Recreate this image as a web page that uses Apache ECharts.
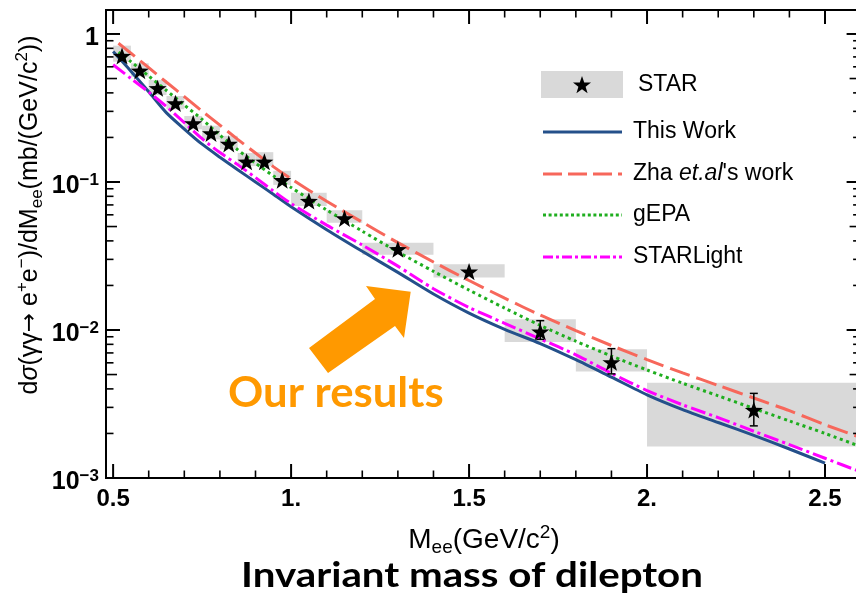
<!DOCTYPE html>
<html>
<head>
<meta charset="utf-8">
<script src="https://cdn.jsdelivr.net/npm/echarts@6/dist/echarts.min.js"></script>
<style>
  html, body { margin: 0; padding: 0; background: #fff; overflow: hidden; }
  #chart { width: 870px; height: 593px; }
</style>
</head>
<body>
<div id="chart"></div>
<script>
// ---- STAR measurement: bin centres, cross sections, bins, systematic band, statistical errors ----
const starMass  = [0.525, 0.575, 0.625, 0.675, 0.725, 0.775, 0.825, 0.875, 0.925, 0.975, 1.05, 1.15, 1.3, 1.5, 1.7, 1.9, 2.3];
const starXsec  = [0.71, 0.565, 0.43, 0.34, 0.249, 0.213, 0.181, 0.137, 0.137, 0.103, 0.0744, 0.0568, 0.0351, 0.0248, 0.00975, 0.00605, 0.00288];
const binLow    = [0.5, 0.55, 0.6, 0.65, 0.7, 0.75, 0.8, 0.85, 0.9, 0.95, 1.0, 1.1, 1.2, 1.4, 1.6, 1.8, 2.0];
const binHigh   = [0.55, 0.6, 0.65, 0.7, 0.75, 0.8, 0.85, 0.9, 0.95, 1.0, 1.1, 1.2, 1.4, 1.6, 1.8, 2.0, 2.6];
const sysLow    = [0.65, 0.515, 0.387, 0.31, 0.227, 0.194, 0.166, 0.128, 0.128, 0.0956, 0.0688, 0.0531, 0.0322, 0.0226, 0.0083, 0.00524, 0.00163];
const sysHigh   = [0.834, 0.634, 0.489, 0.381, 0.279, 0.24, 0.205, 0.157, 0.159, 0.119, 0.0845, 0.0645, 0.0389, 0.0278, 0.0118, 0.00741, 0.0044];
const statLow   = [null, null, null, null, null, null, null, null, null, null, null, null, null, null, 0.00865, 0.00505, 0.00225];
const statHigh  = [null, null, null, null, null, null, null, null, null, null, null, null, null, null, 0.01156, 0.00748, 0.00373];

// ---- theory curves ----
const thisWorkMass = [0.5, 0.55, 0.6, 0.65, 0.7, 0.75, 0.8, 0.85, 0.9, 0.95, 1.0, 1.1, 1.2, 1.3, 1.4, 1.5, 1.6, 1.7, 1.8, 1.9, 2.0, 2.1, 2.2, 2.3, 2.4, 2.5];
const thisWork     = [0.76, 0.56, 0.407, 0.293, 0.228, 0.180, 0.147, 0.121, 0.100, 0.0826, 0.068, 0.0476, 0.034, 0.0245, 0.0175, 0.0130, 0.0101, 0.0081, 0.0063, 0.0048, 0.00365, 0.0029, 0.00237, 0.00194, 0.00157, 0.00126];

const zhaMass = [0.515, 0.55, 0.6, 0.65, 0.7, 0.75, 0.8, 0.85, 0.9, 0.95, 1.0, 1.1, 1.2, 1.3, 1.4, 1.5, 1.6, 1.7, 1.8, 1.9, 2.0, 2.1, 2.2, 2.3, 2.4, 2.5, 2.6];
const zha     = [0.865, 0.741, 0.592, 0.472, 0.377, 0.301, 0.242, 0.194, 0.157, 0.127, 0.105, 0.0741, 0.0535, 0.0389, 0.0288, 0.0216, 0.0164, 0.0126, 0.0099, 0.00785, 0.00631, 0.00513, 0.00422, 0.00347, 0.00285, 0.00229, 0.00188];

const gepaMass = [0.515, 0.55, 0.6, 0.65, 0.7, 0.75, 0.8, 0.85, 0.9, 0.95, 1.0, 1.1, 1.2, 1.3, 1.4, 1.5, 1.6, 1.7, 1.8, 1.9, 2.0, 2.1, 2.2, 2.3, 2.4, 2.5, 2.6];
const gepa     = [0.753, 0.650, 0.520, 0.415, 0.331, 0.265, 0.207, 0.165, 0.134, 0.110, 0.0918, 0.0647, 0.0465, 0.0337, 0.0249, 0.0186, 0.01406, 0.01074, 0.0084, 0.00667, 0.00537, 0.00437, 0.00359, 0.00295, 0.00243, 0.00200, 0.00163];

const starlightMass = [0.5, 0.55, 0.6, 0.65, 0.7, 0.75, 0.8, 0.85, 0.9, 0.95, 1.0, 1.1, 1.2, 1.3, 1.4, 1.5, 1.6, 1.7, 1.8, 1.9, 2.0, 2.1, 2.2, 2.3, 2.4, 2.5, 2.6];
const starlight     = [0.62, 0.50, 0.405, 0.323, 0.252, 0.196, 0.158, 0.131, 0.107, 0.087, 0.0715, 0.0511, 0.0375, 0.0270, 0.0190, 0.0142, 0.0111, 0.0087, 0.0068, 0.0051, 0.0039, 0.00312, 0.00256, 0.00207, 0.00168, 0.00136, 0.0011];

// ---- axis ticks ----
const xMajorTicks = [0.5, 1.0, 1.5, 2.0, 2.5];
const xTickLabels = ['0.5', '1.', '1.5', '2.', '2.5'];
const xMinorTicks = [0.6, 0.7, 0.8, 0.9, 1.1, 1.2, 1.3, 1.4, 1.6, 1.7, 1.8, 1.9, 2.1, 2.2, 2.3, 2.4];
const yMajorTicks = [1, 0.1, 0.01, 0.001];
const yTickExponents = ['', '−1', '−2', '−3'];
const yMidTicks = [0.5, 0.05, 0.005];
const yMinorTicks = [0.9, 0.8, 0.7, 0.6, 0.4, 0.3, 0.2,
                     0.09, 0.08, 0.07, 0.06, 0.04, 0.03, 0.02,
                     0.009, 0.008, 0.007, 0.006, 0.004, 0.003, 0.002];

// ---- axis ranges and styling ----
const X_MIN = 0.48, X_MAX = 2.6, Y_MIN = 0.001, Y_MAX = 1.452;
const FONT = '"Liberation Sans", Arial, Helvetica, sans-serif';
const STAR_PATH = 'path://M50 0L61.76 33.82L97.55 34.55L69.02 56.18L79.39 90.45L50 70L20.61 90.45L30.98 56.18L2.45 34.55L38.24 33.82Z';
const C_BLUE = '#24508a', C_RED = '#f7675b', C_GREEN = '#1fae1f', C_MAGENTA = '#ff00ff', C_BOX = '#d9d9d9', C_ORANGE = '#ff9900';
const TICK_MAJOR = 14, TICK_MID = 11, TICK_MINOR = 7.5;

const zip = (xs, ys) => xs.map((x, i) => [x, ys[i]]);

// five-pointed star outline around a centre
function starPoints(cx, cy, R) {
  const pts = [];
  for (let k = 0; k < 10; k++) {
    const a = -Math.PI / 2 + k * Math.PI / 5, r = k % 2 ? R * 0.4 : R;
    pts.push([cx + r * Math.cos(a), cy + r * Math.sin(a)]);
  }
  return pts;
}

function xTickItem(params, api) {
  const v = api.value(0), len = api.value(2), w = len >= TICK_MAJOR ? 2 : 1.6;
  const b = api.coord([v, Y_MIN]), t = api.coord([v, Y_MAX]);
  return { type: 'group', children: [
    { type: 'line', shape: { x1: b[0], y1: b[1], x2: b[0], y2: b[1] - len }, style: { stroke: '#000', lineWidth: w } },
    { type: 'line', shape: { x1: t[0], y1: t[1], x2: t[0], y2: t[1] + len }, style: { stroke: '#000', lineWidth: w } }
  ] };
}
function yTickItem(params, api) {
  const v = api.value(1), len = api.value(2), w = len >= TICK_MAJOR ? 2 : 1.6;
  const l = api.coord([X_MIN, v]), r = api.coord([X_MAX, v]);
  return { type: 'group', children: [
    { type: 'line', shape: { x1: l[0], y1: l[1], x2: l[0] + len, y2: l[1] }, style: { stroke: '#000', lineWidth: w } },
    { type: 'line', shape: { x1: r[0], y1: r[1], x2: r[0] - len, y2: r[1] }, style: { stroke: '#000', lineWidth: w } }
  ] };
}
function xLabelItem(params, api) {
  const p = api.coord([api.value(0), Y_MIN]);
  return { type: 'text', x: p[0], y: p[1] + 9, style: {
    text: xTickLabels[api.value(2)], fill: '#000', font: 'bold 24px ' + FONT, align: 'center', verticalAlign: 'top' } };
}
function yLabelItem(params, api) {
  const p = api.coord([X_MIN, api.value(1)]);
  const e = yTickExponents[api.value(2)];
  const txt = e ? '{b|10}{s|' + e + '}' : '{b|1}';
  return { type: 'text', x: p[0] - 7, y: p[1] + 4, style: {
    text: txt, align: 'right', verticalAlign: 'middle',
    rich: {
      b: { fontFamily: FONT, fontWeight: 'bold', fontSize: 25, lineHeight: 28, fill: '#000' },
      s: { fontFamily: FONT, fontWeight: 'bold', fontSize: 17, lineHeight: 20, verticalAlign: 'top', fill: '#000' }
    } } };
}

const tickData = {
  x: xMajorTicks.map(v => [v, Y_MIN, TICK_MAJOR]).concat(xMinorTicks.map(v => [v, Y_MIN, TICK_MINOR])),
  y: yMajorTicks.map(v => [X_MIN, v, TICK_MAJOR])
      .concat(yMidTicks.map(v => [X_MIN, v, TICK_MID]))
      .concat(yMinorTicks.map(v => [X_MIN, v, TICK_MINOR]))
};

const boxData = starMass.map((m, i) => [binLow[i], binHigh[i], sysLow[i], sysHigh[i]]);
const errData = starMass.map((m, i) => [m, statLow[i], statHigh[i]]).filter(d => d[1] !== null);

const chart = echarts.init(document.getElementById('chart'), null, { renderer: 'canvas' });

const curve = (name, xs, ys, color, dash) => ({
  name, type: 'line', data: zip(xs, ys), showSymbol: false, symbol: 'none', smooth: 0.25,
  lineStyle: { color, width: 3, type: dash, cap: 'butt', opacity: 1 }, z: 3, silent: true
});

const legendRows = [
  { label: 'This Work', color: C_BLUE, dash: null, y: 132 },
  { label: "Zha {i|et.al}'s work", color: C_RED, dash: [19, 6], y: 174 },
  { label: 'gEPA', color: C_GREEN, dash: [3, 2.6], y: 215 },
  { label: 'STARLight', color: C_MAGENTA, dash: [10, 3, 3, 3], y: 257 }
];

const legendGraphics = [
  { type: 'rect', shape: { x: 541, y: 71, width: 82, height: 27 }, style: { fill: C_BOX } },
  { type: 'polygon', shape: { points: starPoints(582, 85.5, 9.5) }, style: { fill: '#000' } },
  { type: 'text', x: 638, y: 85, style: { text: 'STAR', font: '23px ' + FONT, fill: '#000', verticalAlign: 'middle' } }
];
legendRows.forEach(r => {
  const st = { stroke: r.color, lineWidth: 3 };
  if (r.dash) st.lineDash = r.dash;
  legendGraphics.push({ type: 'line', shape: { x1: 543, y1: r.y, x2: 622, y2: r.y }, style: st });
  legendGraphics.push({ type: 'text', x: 633, y: r.y, style: {
    text: r.label, fontFamily: FONT, fontSize: 23, fill: '#000', verticalAlign: 'middle',
    rich: { i: { fontFamily: FONT, fontSize: 23, fontStyle: 'italic', fill: '#000' } } } });
});

const option = {
  animation: false,
  backgroundColor: '#fff',
  grid: { left: 106, top: 10, width: 754.6, height: 468, show: true, borderColor: '#000', borderWidth: 2, backgroundColor: 'transparent' },
  xAxis: { type: 'value', min: X_MIN, max: X_MAX, axisLine: { show: false }, axisTick: { show: false }, axisLabel: { show: false }, splitLine: { show: false } },
  yAxis: { type: 'log', logBase: 10, min: Y_MIN, max: Y_MAX, axisLine: { show: false }, axisTick: { show: false }, axisLabel: { show: false }, splitLine: { show: false } },
  series: [
    { name: 'STAR sys', type: 'custom', data: boxData, encode: { x: [0, 1], y: [2, 3] }, z: 1, silent: true,
      renderItem(params, api) {
        const a = api.coord([api.value(0), api.value(3)]);
        const b = api.coord([api.value(1), api.value(2)]);
        return { type: 'rect', shape: { x: a[0], y: a[1], width: b[0] - a[0], height: b[1] - a[1] }, style: { fill: C_BOX } };
      } },
    curve('This Work', thisWorkMass, thisWork, C_BLUE, 'solid'),
    curve("Zha et.al's work", zhaMass, zha, C_RED, [21, 7]),
    curve('gEPA', gepaMass, gepa, C_GREEN, [3, 3.6]),
    curve('STARLight', starlightMass, starlight, C_MAGENTA, [15, 4, 3, 4]),
    { name: 'STAR stat', type: 'custom', data: errData, encode: { x: 0, y: [1, 2] }, z: 6, silent: true,
      renderItem(params, api) {
        const lo = api.coord([api.value(0), api.value(1)]);
        const hi = api.coord([api.value(0), api.value(2)]);
        const s = { stroke: '#000', lineWidth: 1.5 };
        return { type: 'group', children: [
          { type: 'line', shape: { x1: lo[0], y1: lo[1], x2: hi[0], y2: hi[1] }, style: s },
          { type: 'line', shape: { x1: lo[0] - 4, y1: lo[1], x2: lo[0] + 4, y2: lo[1] }, style: s },
          { type: 'line', shape: { x1: hi[0] - 4, y1: hi[1], x2: hi[0] + 4, y2: hi[1] }, style: s }
        ] };
      } },
    { name: 'STAR', type: 'scatter', data: zip(starMass, starXsec), symbol: STAR_PATH, symbolKeepAspect: true,
      symbolSize: 18, itemStyle: { color: '#000', opacity: 1 }, z: 7, silent: true },
    { type: 'custom', data: tickData.x, encode: { x: 0, y: 1 }, renderItem: xTickItem, z: 10, silent: true },
    { type: 'custom', data: tickData.y, encode: { x: 0, y: 1 }, renderItem: yTickItem, z: 10, silent: true },
    { type: 'custom', data: xMajorTicks.map((v, i) => [v, Y_MIN, i]), encode: { x: 0, y: 1 }, renderItem: xLabelItem, z: 10, silent: true },
    { type: 'custom', data: yMajorTicks.map((v, i) => [X_MIN, v, i]), encode: { x: 0, y: 1 }, renderItem: yLabelItem, z: 10, silent: true }
  ],
  graphic: {
    elements: [
      // axis titles
      { type: 'text', x: 484, y: 540, style: {
          text: 'M{sub|ee}(GeV/c{sup|2})', fontFamily: FONT, fontSize: 28, lineHeight: 34, fill: '#000', align: 'center', verticalAlign: 'middle',
          rich: { sub: { fontFamily: FONT, fontSize: 19, lineHeight: 19, verticalAlign: 'bottom', fill: '#000' },
                  sup: { fontFamily: FONT, fontSize: 19, lineHeight: 19, verticalAlign: 'top', fill: '#000' } } } },
      { type: 'text', x: 30, y: 215, rotation: Math.PI / 2, style: {
          text: 'd{i|σ}(γγ{a|→} e{sup|+}e{sup|−})/dM{sub|ee}(mb/(GeV/c{sup|2}))', fontFamily: FONT, fontSize: 25, lineHeight: 32, fill: '#000', align: 'center', verticalAlign: 'middle',
          rich: { i: { fontFamily: FONT, fontSize: 25, lineHeight: 32, fontStyle: 'italic', fill: '#000' },
                  a: { fontFamily: '"DejaVu Sans", sans-serif', fontSize: 23, lineHeight: 32, fill: '#000' },
                  sub: { fontFamily: FONT, fontSize: 17, lineHeight: 18, verticalAlign: 'bottom', fill: '#000' },
                  sup: { fontFamily: FONT, fontSize: 17, lineHeight: 18, verticalAlign: 'top', fill: '#000' } } } },
      // caption
      { type: 'text', x: 472, y: 576, scaleX: 1.15, style: { text: 'Invariant mass of dilepton', font: 'bold 35px Lato, "Open Sans", sans-serif', fill: '#000', align: 'center', verticalAlign: 'middle' } },
      // highlight arrow and note
      { type: 'polygon', shape: { points: [[309, 348], [375, 299], [366, 286], [410.7, 291.7], [404, 338], [395, 326], [328, 373]] }, style: { fill: C_ORANGE } },
      { type: 'text', x: 228, y: 393, scaleX: 1.04, style: { text: 'Our results', font: 'bold 42px Lato, "Open Sans", sans-serif', fill: C_ORANGE, verticalAlign: 'middle' } }
    ].concat(legendGraphics)
  }
};

chart.setOption(option);
</script>
</body>
</html>
